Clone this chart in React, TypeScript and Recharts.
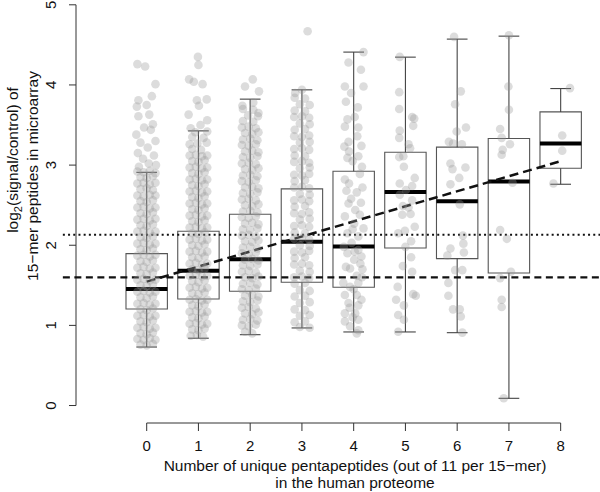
import React from 'react';
import { ComposedChart, Scatter, XAxis, YAxis, ReferenceLine, ReferenceArea, Label } from 'recharts';

// [jitter offset from category, log2(signal/control)]
type Pt = [number, number];

const FONT = '"Liberation Sans", Arial, Helvetica, sans-serif';

const categories = [0, 1, 2, 3, 4, 5, 6, 7, 8];
const xTicks = [0, 1, 2, 3, 4, 5, 6, 7, 8];
const yTicks = [0, 1, 2, 3, 4, 5];

// box statistics
const whiskerLow = [0.73, 0.84, 0.884, 0.968, 0.918, 0.918, 0.909, 0.09, 2.761];
const q1 = [1.205, 1.33, 1.426, 1.538, 1.476, 1.966, 1.833, 1.654, 2.961];
const medians = [1.455, 1.683, 1.825, 2.045, 1.983, 2.665, 2.549, 2.794, 3.268];
const q3 = [1.895, 2.175, 2.387, 2.703, 2.924, 3.161, 3.224, 3.331, 3.664];
const whiskerHigh = [2.91, 3.427, 3.823, 3.939, 4.41, 4.347, 4.572, 4.609, 3.955];

// fitted trend, value at category 0 and category 8
const fitStart = 1.546;
const fitEnd = 3.049;
const dashedLevel = 1.6;
const dottedLevel = 2.13;

const pts0: Pt[] = [
  [-0.18, 4.26], [-0.03, 4.23], [0.17, 4.01], [0.1, 3.86], [-0.16, 3.81], [0.0, 3.75], [-0.19, 3.73], [0.05, 3.63],
  [-0.16, 3.61], [0.12, 3.51], [-0.2, 3.38], [0.08, 3.44], [-0.05, 3.47], [0.17, 3.3], [-0.12, 3.28], [0.02, 3.22],
  [-0.17, 3.15], [0.14, 3.12], [-0.07, 3.08], [0.18, 3.0], [0.04, 3.02], [-0.15, 2.98],
  [-0.18, 2.92], [-0.06, 2.91], [0.06, 2.93], [0.17, 2.9],
  [-0.12, 2.85], [0.0, 2.84], [0.12, 2.86],
  [-0.18, 2.77], [-0.06, 2.78], [0.06, 2.76], [0.17, 2.78],
  [-0.12, 2.7], [0.0, 2.71], [0.12, 2.69],
  [-0.18, 2.62], [-0.06, 2.61], [0.06, 2.63], [0.17, 2.62],
  [-0.12, 2.55], [0.0, 2.54], [0.12, 2.56],
  [-0.18, 2.47], [-0.06, 2.48], [0.06, 2.46], [0.17, 2.47],
  [-0.12, 2.4], [0.0, 2.39], [0.12, 2.41],
  [-0.18, 2.32], [-0.06, 2.33], [0.06, 2.31], [0.17, 2.33],
  [-0.12, 2.25], [0.0, 2.24], [0.12, 2.26],
  [-0.18, 2.17], [-0.06, 2.18], [0.06, 2.16], [0.17, 2.17],
  [-0.12, 2.1], [0.0, 2.09], [0.12, 2.11],
  [-0.18, 2.02], [-0.06, 2.03], [0.06, 2.01], [0.17, 2.02],
  [-0.12, 1.95], [0.0, 1.94], [0.12, 1.96],
  [-0.18, 1.87], [-0.06, 1.88], [0.06, 1.86], [0.17, 1.88],
  [-0.12, 1.8], [0.0, 1.79], [0.12, 1.81],
  [-0.18, 1.72], [-0.06, 1.73], [0.06, 1.71], [0.17, 1.72],
  [-0.12, 1.65], [0.0, 1.64], [0.12, 1.66],
  [-0.18, 1.57], [-0.06, 1.58], [0.06, 1.56], [0.17, 1.57],
  [-0.12, 1.5], [0.0, 1.49], [0.12, 1.51],
  [-0.18, 1.42], [-0.06, 1.43], [0.06, 1.41], [0.17, 1.42],
  [-0.12, 1.35], [0.0, 1.34], [0.12, 1.36],
  [-0.18, 1.27], [-0.06, 1.28], [0.06, 1.26], [0.17, 1.27],
  [-0.12, 1.2], [0.0, 1.19], [0.12, 1.21],
  [-0.18, 1.12], [-0.06, 1.13], [0.06, 1.11], [0.17, 1.12],
  [-0.12, 1.05], [0.0, 1.04], [0.12, 1.06],
  [-0.18, 0.97], [-0.06, 0.98], [0.06, 0.96], [0.17, 0.97],
  [-0.12, 0.9], [0.0, 0.89], [0.12, 0.91],
  [-0.18, 0.83], [-0.06, 0.82], [0.06, 0.84], [0.17, 0.82],
  [-0.12, 0.76], [0.0, 0.75], [0.12, 0.77],
];

const pts1: Pt[] = [
  [-0.01, 4.35], [0.0, 4.25], [-0.18, 4.07], [-0.09, 4.04], [0.08, 4.01], [-0.03, 3.81], [0.16, 3.82], [0.01, 3.74],
  [-0.19, 3.63], [0.17, 3.56], [0.04, 3.5], [-0.15, 3.46], [0.17, 3.42], [-0.06, 3.41],
  [-0.12, 3.35], [0.1, 3.34],
  [-0.02, 3.27], [0.16, 3.28], [-0.17, 3.26],
  [-0.12, 3.2], [0.05, 3.19],
  [-0.17, 3.12], [-0.05, 3.13], [0.07, 3.11], [0.17, 3.12],
  [-0.12, 3.05], [0.0, 3.04], [0.12, 3.06],
  [-0.17, 2.97], [-0.05, 2.98], [0.07, 2.96], [0.17, 2.97],
  [-0.12, 2.9], [0.0, 2.89], [0.12, 2.91],
  [-0.17, 2.82], [-0.05, 2.83], [0.07, 2.81], [0.17, 2.82],
  [-0.12, 2.75], [0.0, 2.74], [0.12, 2.76],
  [-0.17, 2.67], [-0.05, 2.68], [0.07, 2.66], [0.17, 2.67],
  [-0.12, 2.6], [0.0, 2.59], [0.12, 2.61],
  [-0.17, 2.52], [-0.05, 2.53], [0.07, 2.51], [0.17, 2.52],
  [-0.12, 2.45], [0.0, 2.44], [0.12, 2.46],
  [-0.17, 2.37], [-0.05, 2.38], [0.07, 2.36], [0.17, 2.37],
  [-0.12, 2.3], [0.0, 2.29], [0.12, 2.31],
  [-0.17, 2.22], [-0.05, 2.23], [0.07, 2.21], [0.17, 2.22],
  [-0.12, 2.15], [0.0, 2.14], [0.12, 2.16],
  [-0.17, 2.07], [-0.05, 2.08], [0.07, 2.06], [0.17, 2.07],
  [-0.12, 2.0], [0.0, 1.99], [0.12, 2.01],
  [-0.17, 1.92], [-0.05, 1.93], [0.07, 1.91], [0.17, 1.92],
  [-0.12, 1.85], [0.0, 1.84], [0.12, 1.86],
  [-0.17, 1.77], [-0.05, 1.78], [0.07, 1.76], [0.17, 1.77],
  [-0.12, 1.7], [0.0, 1.69], [0.12, 1.71],
  [-0.17, 1.62], [-0.05, 1.63], [0.07, 1.61], [0.17, 1.62],
  [-0.12, 1.55], [0.0, 1.54], [0.12, 1.56],
  [-0.17, 1.47], [-0.05, 1.48], [0.07, 1.46], [0.17, 1.47],
  [-0.12, 1.4], [0.0, 1.39], [0.12, 1.41],
  [-0.17, 1.32], [-0.05, 1.33], [0.07, 1.31], [0.17, 1.32],
  [-0.12, 1.25], [0.0, 1.24], [0.12, 1.26],
  [-0.17, 1.17], [-0.05, 1.18], [0.07, 1.16], [0.17, 1.17],
  [-0.12, 1.1], [0.0, 1.09], [0.12, 1.11],
  [-0.17, 1.02], [-0.05, 1.03], [0.07, 1.01], [0.17, 1.02],
  [-0.12, 0.95], [0.0, 0.94], [0.12, 0.96],
  [-0.15, 0.87], [-0.03, 0.88], [0.09, 0.86],
];

const pts2: Pt[] = [
  [0.05, 4.07], [-0.1, 3.98], [0.17, 3.92], [0.06, 3.78], [-0.15, 3.74], [0.16, 3.65],
  [-0.14, 3.7], [0.06, 3.69],
  [-0.04, 3.62], [0.15, 3.61],
  [-0.14, 3.55], [0.06, 3.54],
  [-0.16, 3.47], [-0.03, 3.48], [0.11, 3.46],
  [-0.1, 3.4], [0.04, 3.39], [0.16, 3.41],
  [-0.14, 3.32], [0.0, 3.33], [0.14, 3.31],
  [-0.16, 3.25], [-0.03, 3.24], [0.11, 3.26],
  [-0.1, 3.17], [0.04, 3.18], [0.16, 3.16],
  [-0.14, 3.1], [0.0, 3.09], [0.14, 3.11],
  [-0.16, 3.02], [-0.03, 3.03], [0.11, 3.01],
  [-0.1, 2.95], [0.04, 2.94], [0.16, 2.96],
  [-0.14, 2.87], [0.0, 2.88], [0.14, 2.86],
  [-0.16, 2.8], [-0.03, 2.79], [0.11, 2.81],
  [-0.1, 2.72], [0.04, 2.73], [0.16, 2.71],
  [-0.14, 2.65], [0.0, 2.64], [0.14, 2.66],
  [-0.16, 2.57], [-0.03, 2.58], [0.11, 2.56],
  [-0.1, 2.5], [0.04, 2.49], [0.16, 2.51],
  [-0.14, 2.42], [0.0, 2.43], [0.14, 2.41],
  [-0.16, 2.35], [-0.03, 2.34], [0.11, 2.36],
  [-0.1, 2.27], [0.04, 2.28], [0.16, 2.26],
  [-0.14, 2.2], [0.0, 2.19], [0.14, 2.21],
  [-0.16, 2.12], [-0.03, 2.13], [0.11, 2.11],
  [-0.1, 2.05], [0.04, 2.04], [0.16, 2.06],
  [-0.14, 1.97], [0.0, 1.98], [0.14, 1.96],
  [-0.16, 1.9], [-0.03, 1.89], [0.11, 1.91],
  [-0.1, 1.82], [0.04, 1.83], [0.16, 1.81],
  [-0.14, 1.75], [0.0, 1.74], [0.14, 1.76],
  [-0.16, 1.67], [-0.03, 1.68], [0.11, 1.66],
  [-0.1, 1.6], [0.04, 1.59], [0.16, 1.61],
  [-0.14, 1.52], [0.0, 1.53], [0.14, 1.51],
  [-0.16, 1.45], [-0.03, 1.44], [0.11, 1.46],
  [-0.1, 1.37], [0.04, 1.38], [0.16, 1.36],
  [-0.14, 1.3], [0.0, 1.29], [0.14, 1.31],
  [-0.16, 1.22], [-0.03, 1.23], [0.11, 1.21],
  [-0.1, 1.15], [0.04, 1.14], [0.16, 1.16],
  [-0.14, 1.07], [0.0, 1.08], [0.14, 1.06],
  [-0.16, 1.0], [-0.03, 0.99], [0.11, 1.01],
  [-0.1, 0.92], [0.04, 0.9],
];

const pts3: Pt[] = [
  [0.11, 4.67], [0.0, 3.94], [-0.13, 3.9],
  [-0.14, 3.84], [0.06, 3.83],
  [-0.04, 3.76], [0.15, 3.75],
  [-0.14, 3.68], [0.06, 3.67],
  [-0.15, 3.6], [0.0, 3.61], [0.14, 3.59],
  [-0.04, 3.52], [0.15, 3.51],
  [-0.14, 3.44], [0.06, 3.45],
  [-0.15, 3.36], [0.0, 3.35], [0.14, 3.37],
  [-0.04, 3.28], [0.15, 3.29],
  [-0.15, 3.2], [0.0, 3.21], [0.14, 3.19],
  [-0.14, 3.12], [0.06, 3.11],
  [-0.15, 3.04], [0.0, 3.05], [0.14, 3.03],
  [-0.04, 2.96], [0.15, 2.97],
  [-0.15, 2.88], [0.0, 2.87], [0.14, 2.89],
  [-0.14, 2.8], [0.06, 2.81],
  [-0.15, 2.72], [0.0, 2.73], [0.14, 2.71],
  [-0.04, 2.64], [0.15, 2.63],
  [-0.15, 2.56], [0.0, 2.57], [0.14, 2.55],
  [-0.14, 2.48], [0.06, 2.49],
  [-0.15, 2.4], [0.0, 2.39], [0.14, 2.41],
  [-0.04, 2.32], [0.15, 2.33],
  [-0.15, 2.24], [0.0, 2.25], [0.14, 2.23],
  [-0.14, 2.16], [0.06, 2.15],
  [-0.15, 2.08], [0.0, 2.09], [0.14, 2.07],
  [-0.04, 2.0], [0.15, 1.99],
  [-0.15, 1.92], [0.0, 1.91], [0.14, 1.93],
  [-0.14, 1.84], [0.06, 1.85],
  [-0.15, 1.76], [0.0, 1.77], [0.14, 1.75],
  [-0.04, 1.68], [0.15, 1.67],
  [-0.15, 1.6], [0.0, 1.61], [0.14, 1.59],
  [-0.14, 1.52], [0.06, 1.53],
  [-0.04, 1.44], [0.15, 1.43],
  [-0.14, 1.36], [0.06, 1.37],
  [-0.04, 1.28], [0.15, 1.29],
  [-0.14, 1.2], [0.06, 1.19],
  [-0.04, 1.12], [0.15, 1.13],
  [-0.14, 1.04], [0.06, 1.05],
  [-0.04, 0.98], [0.15, 0.97],
];

const pts4: Pt[] = [
  [0.19, 4.41], [-0.1, 4.28], [0.14, 4.19], [0.19, 3.98], [-0.17, 3.98], [-0.05, 3.9], [-0.15, 3.79], [0.08, 3.72],
  [0.02, 3.6], [-0.12, 3.57], [0.09, 3.47], [-0.17, 3.48], [0.07, 3.36], [-0.1, 3.29], [0.15, 3.24], [-0.18, 3.23],
  [-0.09, 3.17], [0.09, 3.11], [-0.12, 3.09], [-0.02, 3.05], [0.16, 2.98], [0.12, 2.89], [-0.17, 2.82], [-0.09, 2.77],
  [0.17, 2.72], [-0.14, 2.68], [0.06, 2.66], [-0.05, 2.58], [0.14, 2.53], [-0.1, 2.52], [0.03, 2.44], [0.12, 2.38],
  [-0.17, 2.36], [0.01, 2.27], [0.19, 2.21], [-0.02, 2.2], [-0.12, 2.15], [0.09, 2.11], [-0.04, 2.03], [-0.19, 1.98],
  [0.09, 1.94], [0.02, 1.92], [-0.12, 1.9], [0.15, 1.86], [0.01, 1.82], [0.13, 1.77], [-0.15, 1.73], [-0.07, 1.71],
  [0.17, 1.7], [0.06, 1.62], [0.16, 1.6], [-0.2, 1.53], [0.09, 1.53], [-0.07, 1.48], [0.0, 1.45], [-0.17, 1.38],
  [0.06, 1.38], [0.15, 1.32], [-0.1, 1.28], [0.09, 1.25], [-0.08, 1.22], [-0.17, 1.15], [0.03, 1.15], [-0.02, 1.1],
  [0.09, 1.07], [-0.17, 1.05], [-0.07, 0.99], [0.09, 0.94], [0.06, 0.9],
];

const pts5: Pt[] = [
  [-0.11, 4.35], [-0.12, 3.91], [-0.12, 3.7], [0.13, 3.6], [0.17, 3.58], [0.15, 3.49], [-0.11, 3.43], [-0.12, 3.34],
  [0.06, 3.26], [0.09, 3.21], [-0.04, 3.11], [-0.12, 3.1], [-0.03, 2.98], [0.18, 2.84], [-0.11, 2.77], [0.13, 2.74],
  [0.01, 2.69], [-0.11, 2.63], [0.13, 2.56], [-0.05, 2.49], [0.06, 2.47], [-0.06, 2.38], [0.1, 2.39], [0.18, 2.23],
  [-0.01, 2.18], [-0.14, 2.15], [0.11, 2.05], [0.0, 1.98], [0.11, 1.85], [-0.05, 1.74], [0.13, 1.67], [-0.15, 1.48],
  [0.15, 1.39], [0.2, 1.37], [-0.18, 1.32], [-0.03, 1.25], [-0.14, 1.13], [-0.03, 1.07], [-0.14, 0.92],
];

const pts6: Pt[] = [
  [-0.06, 4.6], [0.07, 3.92], [-0.04, 3.76], [-0.01, 3.42], [0.17, 3.47], [-0.16, 3.29], [-0.08, 3.27], [0.09, 3.26],
  [-0.13, 3.02], [-0.09, 2.95], [0.16, 2.97], [0.04, 2.84], [-0.13, 2.76], [0.05, 2.51], [0.11, 2.12], [0.12, 2.02],
  [-0.13, 1.96], [0.13, 1.91], [-0.19, 1.87], [-0.04, 1.69], [0.1, 1.69], [-0.17, 1.53], [-0.17, 1.37], [-0.08, 1.2],
  [0.05, 1.2], [0.07, 1.11], [0.1, 0.91],
];

const pts7: Pt[] = [
  [0.0, 4.62], [-0.01, 3.98], [0.0, 3.69], [-0.17, 3.45], [-0.14, 3.34], [0.02, 3.26], [-0.12, 3.19], [-0.14, 3.13],
  [0.07, 2.78], [-0.17, 2.19], [-0.04, 2.08], [0.04, 1.67], [-0.17, 1.59], [-0.14, 1.32], [-0.14, 1.23], [-0.1, 0.09],
];

const pts8: Pt[] = [[0.18, 3.96], [0.03, 3.37], [0.03, 3.18], [-0.14, 2.77]];

const pointsByCategory = [pts0, pts1, pts2, pts3, pts4, pts5, pts6, pts7, pts8];

const scatterData = categories.flatMap((c, i) =>
  pointsByCategory[i].map(([dx, y]) => ({ x: c + dx, y }))
);

const X_DOMAIN: [number, number] = [-1.366, 8.76];
const Y_DOMAIN: [number, number] = [-0.218, 5.06];
const LEFT_EDGE = -1.62;

const Dot = (p: any) => <circle cx={p.cx} cy={p.cy} r={4.3} fill="#999" fillOpacity={0.34} />;

const YTick = (p: any) => (
  <text
    x={p.x}
    y={p.y}
    transform={`rotate(-90, ${p.x}, ${p.y})`}
    textAnchor="middle"
    fontSize={15}
    fontFamily={FONT}
    fill="#111"
  >
    {p.payload.value}
  </text>
);

const XLabel = () => (
  <g fontFamily={FONT} fontSize={15.5} fill="#111" textAnchor="middle">
    <text x={355} y={471}>Number of unique pentapeptides (out of 11 per 15−mer)</text>
    <text x={355} y={488}>in the human proteome</text>
  </g>
);

const YLabel = () => (
  <g fontFamily={FONT} fontSize={15.5} fill="#111" textAnchor="middle">
    <text x={18} y={160} transform="rotate(-90, 18, 160)">
      log<tspan fontSize={11} dy={4}>2</tspan>
      <tspan dy={-4}>(signal/control) of</tspan>
    </text>
    <text x={38} y={176} transform="rotate(-90, 38, 176)">15−mer peptides in microarray</text>
  </g>
);

export default function App() {
  return (
    <div style={{ position: 'fixed', left: 0, top: 0, width: 600, height: 492, background: '#fff' }}>
      <ComposedChart width={600} height={492} data={scatterData} margin={{ top: 0, right: 0, bottom: 0, left: 0 }}>
        <XAxis
          type="number"
          dataKey="x"
          domain={X_DOMAIN}
          ticks={xTicks}
          interval={0}
          allowDataOverflow
          height={69}
          axisLine={false}
          tickLine={{ stroke: '#333' }}
          tickSize={8}
          tickMargin={9}
          tick={{ fontSize: 15, fill: '#111', fontFamily: FONT }}
          label={<Label content={XLabel} />}
        />
        <YAxis
          type="number"
          dataKey="y"
          domain={Y_DOMAIN}
          ticks={yTicks}
          interval={0}
          allowDataOverflow
          width={76}
          axisLine={false}
          tickLine={{ stroke: '#333' }}
          tickSize={7}
          tickMargin={13}
          tick={<YTick />}
          label={<Label content={YLabel} />}
        />
        <Scatter data={scatterData} shape={Dot} isAnimationActive={false} />

        {/* axis lines drawn only across the tick range, as in R */}
        <ReferenceLine segment={[{ x: X_DOMAIN[0], y: 0 }, { x: X_DOMAIN[0], y: 5 }]} stroke="#333" ifOverflow="visible" />
        <ReferenceLine segment={[{ x: 0, y: Y_DOMAIN[0] }, { x: 8, y: Y_DOMAIN[0] }]} stroke="#333" ifOverflow="visible" />

        {categories.map((c, i) => (
          <ReferenceArea
            key={`box${c}`}
            x1={c - 0.4}
            x2={c + 0.4}
            y1={q1[i]}
            y2={q3[i]}
            fill="none"
            fillOpacity={0}
            stroke="#555"
            strokeWidth={1.1}
            ifOverflow="visible"
          />
        ))}
        {categories.map((c, i) => (
          <ReferenceLine key={`wl${c}`} segment={[{ x: c, y: whiskerLow[i] }, { x: c, y: q1[i] }]} stroke="#444" strokeWidth={1.1} ifOverflow="visible" />
        ))}
        {categories.map((c, i) => (
          <ReferenceLine key={`wh${c}`} segment={[{ x: c, y: q3[i] }, { x: c, y: whiskerHigh[i] }]} stroke="#444" strokeWidth={1.1} ifOverflow="visible" />
        ))}
        {categories.map((c, i) => (
          <ReferenceLine key={`cl${c}`} segment={[{ x: c - 0.2, y: whiskerLow[i] }, { x: c + 0.2, y: whiskerLow[i] }]} stroke="#444" strokeWidth={1.1} ifOverflow="visible" />
        ))}
        {categories.map((c, i) => (
          <ReferenceLine key={`ch${c}`} segment={[{ x: c - 0.2, y: whiskerHigh[i] }, { x: c + 0.2, y: whiskerHigh[i] }]} stroke="#444" strokeWidth={1.1} ifOverflow="visible" />
        ))}
        {categories.map((c, i) => (
          <ReferenceLine key={`md${c}`} segment={[{ x: c - 0.4, y: medians[i] }, { x: c + 0.4, y: medians[i] }]} stroke="#000" strokeWidth={4} ifOverflow="visible" />
        ))}

        <ReferenceLine
          segment={[{ x: LEFT_EDGE, y: dottedLevel }, { x: X_DOMAIN[1], y: dottedLevel }]}
          stroke="#111"
          strokeWidth={2}
          strokeDasharray="2 3.2"
          ifOverflow="visible"
        />
        <ReferenceLine
          segment={[{ x: LEFT_EDGE, y: dashedLevel }, { x: X_DOMAIN[1], y: dashedLevel }]}
          stroke="#111"
          strokeWidth={2.3}
          strokeDasharray="7 4.5"
          ifOverflow="visible"
        />
        <ReferenceLine
          segment={[{ x: 0, y: fitStart }, { x: 8, y: fitEnd }]}
          stroke="#111"
          strokeWidth={2.5}
          strokeDasharray="9 5"
          ifOverflow="visible"
        />
      </ComposedChart>
    </div>
  );
}
